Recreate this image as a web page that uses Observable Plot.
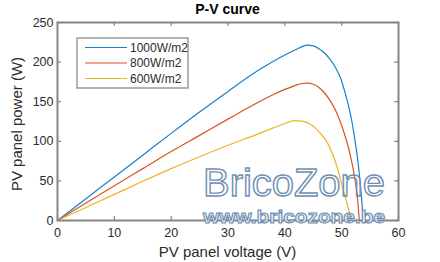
<!DOCTYPE html>
<html>
<head>
<meta charset="utf-8">
<script src="https://cdn.jsdelivr.net/npm/d3@7"></script>
<script src="https://cdn.jsdelivr.net/npm/@observablehq/plot@0.6"></script>
<style>
  html, body { margin: 0; padding: 0; background: #fff; }
  #chart svg { display: block; }
</style>
</head>
<body>
<div id="chart"></div>
<script>
// Irradiance levels shown in the legend
const seriesNames = ["1000W/m2", "800W/m2", "600W/m2"];
const seriesColors = ["#1580cf", "#d9531e", "#efb324"];

// Panel voltage (V) and power (W) samples for each irradiance level
const v1000 = [0, 5, 10, 15, 20, 25, 30, 35, 38, 40, 42, 43, 44, 45, 46, 47, 48, 49, 49.8, 50.5, 51.2, 51.8, 52.3, 52.8, 53.2, 53.5, 53.8];
const p1000 = [0, 27.5, 55, 82.5, 110, 137, 163, 188, 201, 209, 216, 219.5, 221.5, 220.5, 217, 211.5, 203, 192, 180, 164, 145, 125, 103, 78, 52, 28, 0];

const v800 = [0, 5, 10, 15, 20, 25, 30, 35, 38, 40, 42, 43, 44, 45, 46, 47, 48, 49, 50, 50.8, 51.5, 52, 52.5, 52.8, 53.1];
const p800 = [0, 22, 44, 65.5, 87, 107.5, 128, 148, 159, 165.5, 171, 173, 173.5, 172, 168, 161, 151, 138, 120, 102, 83, 66, 44, 27, 0];

const v600 = [0, 5, 10, 15, 20, 25, 30, 35, 38, 40, 41.7, 43, 44.5, 46, 47.5, 48.5, 49.5, 50.3, 51, 51.7];
const p600 = [0, 16.5, 33, 49.5, 65.5, 80.5, 95, 108.5, 117, 122.5, 126, 125.5, 121.5, 112, 98, 82, 60, 38, 20, 0];

// Axis ticks
const xTicks = [0, 10, 20, 30, 40, 50, 60];
const yTicks = [0, 50, 100, 150, 200, 250];

const seriesV = [v1000, v800, v600];
const seriesP = [p1000, p800, p600];
const rows = seriesNames.flatMap((name, i) =>
  seriesV[i].map((v, j) => ({series: name, v, p: seriesP[i][j]}))
);

const W = 440, H = 262;
const mL = 57, mR = 42, mT = 22, mB = 42;
const plotW = W - mL - mR, plotH = H - mT - mB;
const axisGray = "#858585";
const textColor = "#2b2b2b";
const font = "'Liberation Sans', Arial, Helvetica, sans-serif";

const chart = Plot.plot({
  width: W,
  height: H,
  marginLeft: mL,
  marginRight: mR,
  marginTop: mT,
  marginBottom: mB,
  style: {background: "#fff", fontFamily: font, color: textColor},
  x: {domain: [0, 60]},
  y: {domain: [0, 250]},
  color: {domain: seriesNames, range: seriesColors},
  marks: [
    Plot.line(rows, {x: "v", y: "p", z: "series", stroke: "series", strokeWidth: 1.2, curve: "monotone-x"}),
    // inward ticks on all four sides
    Plot.tickX(xTicks, {x: d => d, stroke: axisGray, strokeWidth: 1.2, insetTop: plotH - 4}),
    Plot.tickX(xTicks, {x: d => d, stroke: axisGray, strokeWidth: 1.2, insetBottom: plotH - 4}),
    Plot.tickY(yTicks, {y: d => d, stroke: axisGray, strokeWidth: 1.2, insetRight: plotW - 4}),
    Plot.tickY(yTicks, {y: d => d, stroke: axisGray, strokeWidth: 1.2, insetLeft: plotW - 4}),
    Plot.frame({stroke: axisGray, strokeWidth: 2}),
    Plot.axisX({anchor: "bottom", ticks: xTicks, tickSize: 0, tickPadding: 8, fontSize: 12.5, label: null, tickFormat: d => String(d)}),
    Plot.axisY({anchor: "left", ticks: yTicks, tickSize: 0, tickPadding: 4, fontSize: 12.5, label: null, tickFormat: d => String(d)})
  ]
});

document.getElementById("chart").appendChild(chart);

const svg = d3.select(chart);

// Title and axis labels
svg.append("text")
  .attr("x", mL + plotW / 2).attr("y", 14)
  .attr("text-anchor", "middle")
  .attr("font-family", font).attr("font-size", 14).attr("font-weight", "bold")
  .attr("fill", "#000")
  .text("P-V curve");

svg.append("text")
  .attr("x", mL + plotW / 2).attr("y", 257)
  .attr("text-anchor", "middle")
  .attr("font-family", font).attr("font-size", 15)
  .attr("fill", textColor)
  .text("PV panel voltage (V)");

svg.append("text")
  .attr("transform", `translate(22,${mT + plotH / 2 + 3}) rotate(-90)`)
  .attr("text-anchor", "middle")
  .attr("font-family", font).attr("font-size", 15)
  .attr("fill", textColor)
  .text("PV panel power (W)");

// Legend box
const legend = svg.append("g").attr("text-anchor", "start");
legend.append("rect")
  .attr("x", 77).attr("y", 38).attr("width", 111).attr("height", 50)
  .attr("fill", "#fff").attr("stroke", "#9a9a9a").attr("stroke-width", 1.5);
seriesNames.forEach((name, i) => {
  const cy = 47.5 + i * 15.5;
  legend.append("line")
    .attr("x1", 85).attr("x2", 127).attr("y1", cy).attr("y2", cy)
    .attr("stroke", seriesColors[i]).attr("stroke-width", 1.2);
  legend.append("text")
    .attr("x", 130).attr("y", cy + 4.2)
    .attr("text-anchor", "start")
    .attr("font-family", font).attr("font-size", 12)
    .attr("fill", textColor)
    .text(name);
});

// Site watermark
svg.append("text")
  .attr("x", 203).attr("y", 196)
  .attr("text-anchor", "start")
  .attr("font-family", font).attr("font-size", 39)
  .attr("textLength", 182).attr("lengthAdjust", "spacingAndGlyphs")
  .attr("fill", "none").attr("stroke", "#6f90b3").attr("stroke-width", 1.4)
  .text("BricoZone");

svg.append("text")
  .attr("x", 203).attr("y", 223)
  .attr("text-anchor", "start")
  .attr("font-family", font).attr("font-size", 19).attr("font-weight", "bold")
  .attr("textLength", 182).attr("lengthAdjust", "spacingAndGlyphs")
  .attr("fill", "#e3ebf3").attr("stroke", "#6a8cb0").attr("stroke-width", 1)
  .text("www.bricozone.be");
</script>
</body>
</html>
